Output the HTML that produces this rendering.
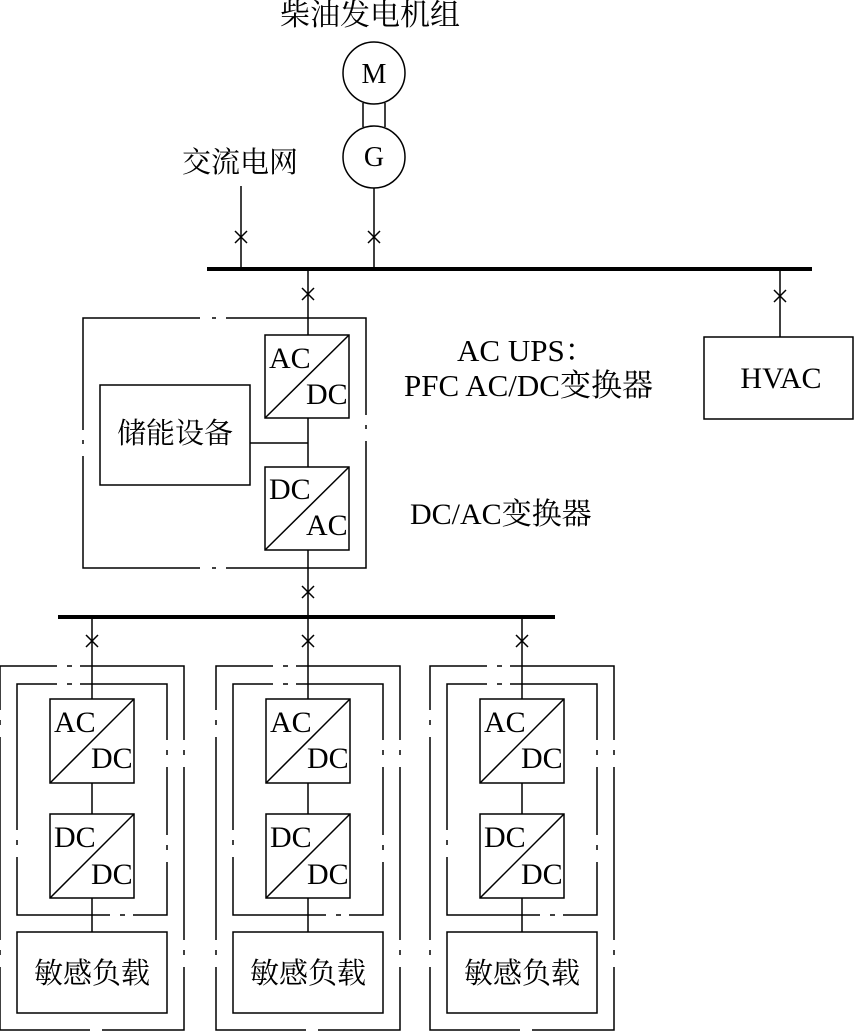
<!DOCTYPE html>
<html><head><meta charset="utf-8"><style>
html,body{margin:0;padding:0;background:#fff}
svg{display:block}
text{fill:#000}
.s{font-family:"Liberation Serif","Noto Serif CJK SC",serif}
.c{font-family:"Noto Serif CJK SC","Liberation Serif",serif}
</style></head><body>
<svg width="854" height="1032" viewBox="0 0 854 1032" xmlns="http://www.w3.org/2000/svg">
<g stroke="#000" stroke-width="1.5" fill="none">
<circle cx="374" cy="73" r="31"/>
<circle cx="374" cy="157" r="31"/>
<line x1="363" y1="103" x2="363" y2="127"/>
<line x1="385" y1="103" x2="385" y2="127"/>
<line x1="374" y1="188" x2="374" y2="269"/>
<line x1="241" y1="186" x2="241" y2="269"/>
<line x1="207" y1="269" x2="812" y2="269" stroke-width="4"/>
<line x1="780" y1="269" x2="780" y2="337"/>
<rect x="704" y="337" width="149" height="82"/>
<line x1="308" y1="269" x2="308" y2="335"/>
<rect x="83" y="318" width="283" height="250"/>
<rect x="265" y="335" width="84" height="83"/>
<line x1="265" y1="418" x2="349" y2="335"/>
<rect x="265" y="467" width="84" height="83"/>
<line x1="265" y1="550" x2="349" y2="467"/>
<line x1="308" y1="418" x2="308" y2="467"/>
<rect x="100" y="385" width="150" height="100"/>
<line x1="250" y1="443" x2="308" y2="443"/>
<line x1="308" y1="550" x2="308" y2="617"/>
<line x1="58" y1="617" x2="555" y2="617" stroke-width="4"/>
</g>
<g fill="#fff">
<rect x="200" y="315" width="12" height="6"/><rect x="216" y="315" width="10" height="6"/>
<rect x="200" y="565" width="12" height="6"/><rect x="216" y="565" width="10" height="6"/>
<rect x="80" y="430" width="6" height="10"/><rect x="80" y="444" width="6" height="12"/>
<rect x="363" y="415" width="6" height="10"/><rect x="363" y="429" width="6" height="12"/>
</g>
<g stroke="#000" stroke-width="1.5">
<path d="M235 231l12 12M247 231l-12 12"/>
<path d="M368 231l12 12M380 231l-12 12"/>
<path d="M302 288l12 12M314 288l-12 12"/>
<path d="M774 290l12 12M786 290l-12 12"/>
<path d="M302 586l12 12M314 586l-12 12"/>
<path d="M86 635l12 12M98 635l-12 12"/>
<path d="M302 635l12 12M314 635l-12 12"/>
<path d="M516 635l12 12M528 635l-12 12"/>
</g>
<g id="col1">
<g stroke="#000" stroke-width="1.5" fill="none">
<line x1="92" y1="617" x2="92" y2="699"/>
<rect x="0" y="666" width="184" height="364"/>
<rect x="17" y="684" width="150" height="231"/>
<rect x="50" y="699" width="84" height="84"/>
<line x1="50" y1="783" x2="134" y2="699"/>
<rect x="50" y="814" width="84" height="84"/>
<line x1="50" y1="898" x2="134" y2="814"/>
<line x1="92" y1="783" x2="92" y2="814"/>
<line x1="92" y1="898" x2="92" y2="932"/>
<rect x="17" y="932" width="150" height="81"/>
</g>
<g fill="#fff">
<rect x="57" y="663" width="10" height="6"/><rect x="72" y="663" width="8" height="6"/>
<rect x="57" y="681" width="10" height="6"/><rect x="72" y="681" width="8" height="6"/>
<rect x="110" y="912" width="10" height="6"/><rect x="125" y="912" width="8" height="6"/>
<rect x="90" y="1027" width="12" height="6"/>
<rect x="-3" y="710" width="6" height="10"/><rect x="-3" y="725" width="6" height="12"/>
<rect x="14" y="830" width="6" height="10"/><rect x="14" y="845" width="6" height="12"/>
<rect x="-3" y="940" width="6" height="10"/><rect x="-3" y="955" width="6" height="12"/>
<rect x="164" y="740" width="6" height="10"/><rect x="164" y="755" width="6" height="12"/>
<rect x="181" y="740" width="6" height="10"/><rect x="181" y="755" width="6" height="12"/>
<rect x="164" y="835" width="6" height="10"/><rect x="164" y="850" width="6" height="12"/>
<rect x="181" y="940" width="6" height="10"/><rect x="181" y="955" width="6" height="12"/>
</g>
<text class="s" x="54" y="732" font-size="30">AC</text>
<text class="s" x="91" y="768" font-size="30">DC</text>
<text class="s" x="54" y="847" font-size="30">DC</text>
<text class="s" x="91" y="884" font-size="30">DC</text>
<text class="c" x="92" y="983" font-size="29" text-anchor="middle">敏感负载</text>
</g>
<use href="#col1" x="216"/>
<use href="#col1" x="430"/>
<text class="c" x="370" y="25" font-size="30" text-anchor="middle">柴油发电机组</text>
<text class="s" x="374" y="83" font-size="28" text-anchor="middle">M</text>
<text class="s" x="374" y="166" font-size="28" text-anchor="middle">G</text>
<text class="c" x="182" y="172" font-size="29">交流电网</text>
<text class="s" x="781" y="388" font-size="30" text-anchor="middle">HVAC</text>
<text class="s" x="269" y="368" font-size="30">AC</text>
<text class="s" x="306" y="404" font-size="30">DC</text>
<text class="s" x="269" y="499" font-size="30">DC</text>
<text class="s" x="306" y="535" font-size="30">AC</text>
<text class="c" x="175" y="443" font-size="29" text-anchor="middle">储能设备</text>
<text class="s" x="457" y="361" font-size="31">AC UPS：</text>
<text class="s" x="404" y="396" font-size="31">PFC AC/DC<tspan class="c">变换器</tspan></text>
<text class="s" x="410" y="524" font-size="30">DC/AC<tspan class="c">变换器</tspan></text>
</svg>
</body></html>
